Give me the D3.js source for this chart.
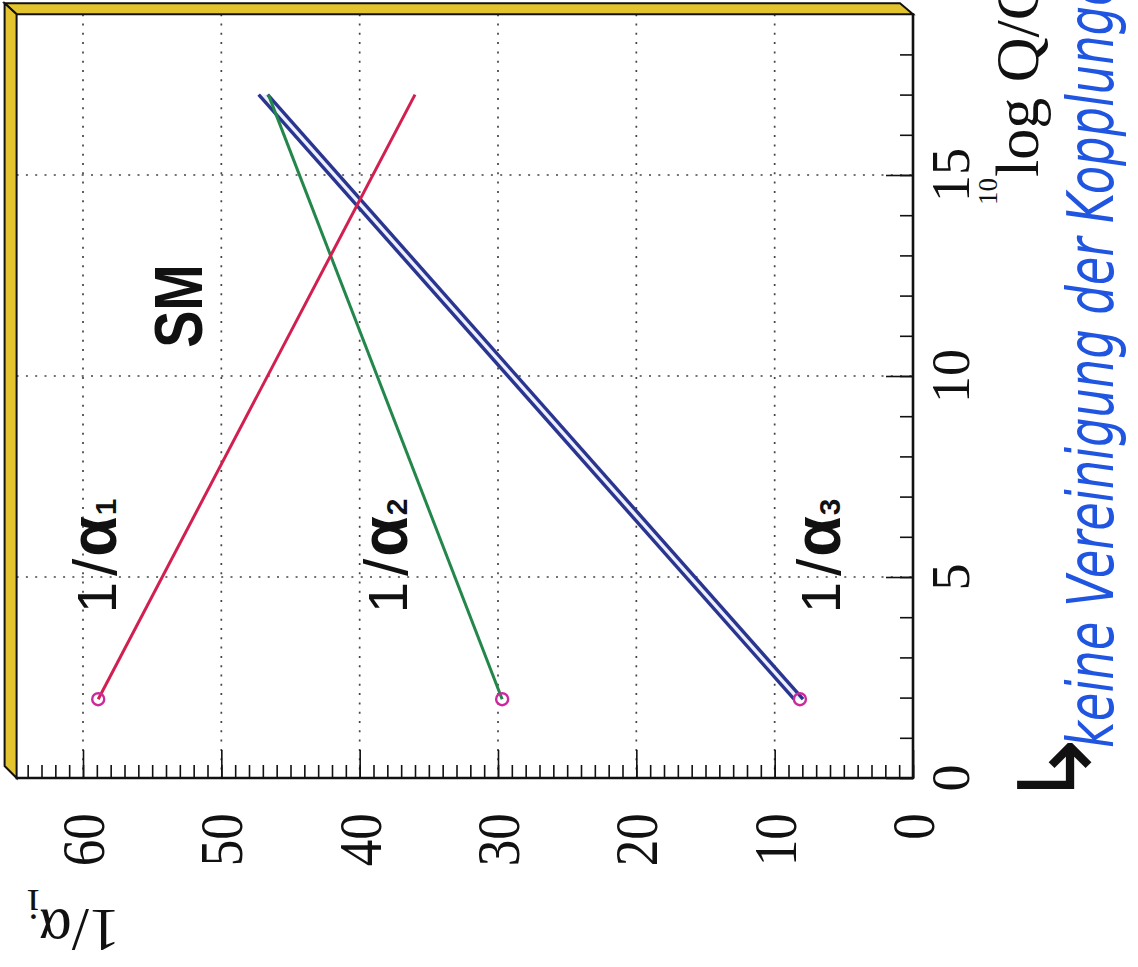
<!DOCTYPE html>
<html><head><meta charset="utf-8">
<script src="https://cdn.jsdelivr.net/npm/d3@7"></script>
<style>html,body{margin:0;padding:0;background:#fff;overflow:hidden}</style>
</head><body><svg id="c" width="1138" height="967"></svg>
<script>
// ---------- data ----------
const seriesNames = ["α1", "α2", "α3"];
const logQRange = [1.96, 17.0];                 // log10(Q/GeV) at start / end of each line
const invAlpha1 = [58.9, 36.0];
const invAlpha2 = [29.7, 46.6];
const invAlpha3Lower = [7.95, 46.65];           // blue band, lower edge
const invAlpha3Upper = [8.6, 47.3];             // blue band, upper edge
const invAlphaMajorTicks = [0, 10, 20, 30, 40, 50, 60];
const invAlphaMinorTicks = d3.range(0, 65, 1);
const logQMajorTicks = [0, 5, 10, 15];
const logQMinorTicks = d3.range(0, 19, 1);
const seriesLabelQ = [4.1, 4.1, 4.1];
const seriesLabelA = [57.6, 36.6, 5.3];
const seriesSubs = ["1", "2", "3"];
const smLabel = {q: 10.7, a: 51.4, text: "SM"};
const yTitle = "1/α";
const yTitleSub = "i";
const xTitlePre = "10";
const xTitle = "log Q/GeV";
const note = "keine Vereinigung der Kopplungen";

// ---------- scales (chart is rotated 90° CCW) ----------
const xA = d3.scaleLinear().domain([0, 60]).range([913, 83]);   // 1/alpha -> horizontal
const yQ = d3.scaleLinear().domain([0, 15]).range([778, 175]);  // log Q -> vertical
const aMax = 64.8, qMax = 19;
const L = xA(aMax), R = xA(0), T = yQ(qMax), B = yQ(0);

const svg = d3.select("#c");
svg.append("rect").attr("width", 1138).attr("height", 967).attr("fill", "#fff");
svg.append("rect").attr("x", L).attr("y", T).attr("width", R - L).attr("height", B - T).attr("fill", "#fff");

// grid
const grid = svg.append("g").attr("stroke", "#444").attr("stroke-width", 1.7).attr("stroke-dasharray", "2,7.3");
grid.selectAll("line.v").data(invAlphaMajorTicks.filter(d => d > 0)).join("line")
  .attr("x1", d => xA(d)).attr("x2", d => xA(d)).attr("y1", T).attr("y2", B);
grid.selectAll("line.h").data(logQMajorTicks.filter(d => d > 0)).join("line")
  .attr("y1", d => yQ(d)).attr("y2", d => yQ(d)).attr("x1", L).attr("x2", R);

// frame (yellow 3D border)
const dep = 12;
const frame = svg.append("g").attr("fill", "#e4c42e").attr("stroke", "#111").attr("stroke-width", 2).attr("stroke-linejoin", "miter");
frame.append("polygon").attr("points", [[L - dep, T - 11], [R - 13, T - 11], [R, T], [L, T]].join(" "));
frame.append("polygon").attr("points", [[L - dep, T - 11], [L, T], [L, B], [L - dep, B - 12]].join(" "));

// ticks
function styleAxis(g) { g.select(".domain").remove(); g.selectAll("line").attr("stroke", "#111").attr("stroke-width", 1.6); }
svg.append("g").attr("transform", `translate(0,${B})`)
  .call(d3.axisTop(xA).tickValues(invAlphaMinorTicks).tickSize(13).tickFormat("")).call(styleAxis);
svg.append("g").attr("transform", `translate(0,${B})`)
  .call(d3.axisTop(xA).tickValues(invAlphaMajorTicks).tickSize(28).tickFormat("")).call(styleAxis);
svg.append("g").attr("transform", `translate(${R},0)`)
  .call(d3.axisLeft(yQ).tickValues(logQMinorTicks).tickSize(13).tickFormat("")).call(styleAxis);
svg.append("g").attr("transform", `translate(${R},0)`)
  .call(d3.axisLeft(yQ).tickValues(logQMajorTicks).tickSize(27).tickFormat("")).call(styleAxis);

// axis lines
svg.append("line").attr("x1", L - 1).attr("x2", R + 1).attr("y1", B).attr("y2", B).attr("stroke", "#111").attr("stroke-width", 2.6);
svg.append("line").attr("x1", R).attr("x2", R).attr("y1", T - 1).attr("y2", B + 1).attr("stroke", "#111").attr("stroke-width", 2.6);

// tick labels
const serif = "'Liberation Serif','Times New Roman',serif";
svg.append("g").selectAll("text").data(invAlphaMajorTicks).join("text")
  .attr("transform", d => `translate(${xA(d)},${813}) rotate(-90) scale(0.86,1)`)
  .attr("text-anchor", "end").attr("dy", "0.34em")
  .attr("font-family", serif).attr("font-size", 62).attr("fill", "#111")
  .text(d => d);
svg.append("g").selectAll("text").data(logQMajorTicks).join("text")
  .attr("transform", d => `translate(${969},${yQ(d)}) rotate(-90)`)
  .attr("text-anchor", "middle")
  .attr("font-family", serif).attr("font-size", 54).attr("fill", "#111")
  .text(d => d);

// lines
const line = d3.line().x(d => xA(d.a)).y(d => yQ(d.q));
const mk = arr => arr.map((a, i) => ({a, q: logQRange[i]}));
const area = d3.area().y(d => yQ(d.q)).x0(d => xA(d.lo)).x1(d => xA(d.hi));
svg.append("path").datum(invAlpha3Lower.map((lo, i) => ({lo, hi: invAlpha3Upper[i], q: logQRange[i]})))
  .attr("d", area).attr("fill", "#eef0fd");
svg.append("path").datum(mk(invAlpha3Lower)).attr("d", line).attr("stroke", "#2a3590").attr("stroke-width", 3.4).attr("fill", "none");
svg.append("path").datum(mk(invAlpha3Upper)).attr("d", line).attr("stroke", "#2a3590").attr("stroke-width", 3.4).attr("fill", "none");
svg.append("path").datum(mk(invAlpha2)).attr("d", line).attr("stroke", "#23864a").attr("stroke-width", 3).attr("fill", "none");
svg.append("path").datum(mk(invAlpha1)).attr("d", line).attr("stroke", "#d11f4f").attr("stroke-width", 3).attr("fill", "none");

// start circles
const starts = [invAlpha1[0], invAlpha2[0], (invAlpha3Lower[0] + invAlpha3Upper[0]) / 2 - 0.1];
svg.append("g").selectAll("circle").data(starts).join("circle")
  .attr("cx", d => xA(d)).attr("cy", yQ(logQRange[0])).attr("r", 6)
  .attr("fill", "none").attr("stroke", "#cc2a9c").attr("stroke-width", 2.4);

// series labels
const sans = "'Liberation Sans',Arial,sans-serif";
seriesNames.forEach((n, i) => {
  const t = svg.append("text")
    .attr("transform", `translate(${xA(seriesLabelA[i])},${yQ(seriesLabelQ[i])}) rotate(-90)`)
    .attr("font-family", sans).attr("fill", "#111");
  t.append("tspan").attr("font-size", 56).text("1");
  t.append("tspan").attr("font-size", 62).attr("dx", 6).text("/");
  t.append("tspan").attr("font-size", 66).attr("dx", 2).attr("font-weight", "bold").text("α");
  t.append("tspan").attr("font-size", 30).attr("dx", 1).attr("font-weight", "bold").text(seriesSubs[i]);
});

// SM
svg.append("text")
  .attr("transform", `translate(${xA(smLabel.a)},${yQ(smLabel.q)}) rotate(-90) scale(0.82,1)`)
  .attr("font-family", sans).attr("font-weight", "bold").attr("font-size", 68).attr("fill", "#111")
  .text(smLabel.text);

// y title (upside down)
const yt = svg.append("text").attr("transform", `translate(120,910) rotate(180)`)
  .attr("font-family", serif).attr("font-size", 62).attr("fill", "#111");
yt.append("tspan").text(yTitle);
yt.append("tspan").attr("font-size", 44).attr("dy", 20).text(yTitleSub);

// x title (rotated)
const xt = svg.append("text").attr("transform", `translate(1038,205) rotate(-90)`)
  .attr("font-family", serif).attr("font-size", 62).attr("fill", "#111");
xt.append("tspan").attr("font-size", 27).attr("dy", -41).text(xTitlePre);
xt.append("tspan").attr("dy", 41).attr("dx", 1).text(xTitle);

// handwritten note
svg.append("text").attr("transform", `translate(1113,748) rotate(-90)`)
  .attr("font-family", "'DejaVu Sans Condensed','Liberation Sans Narrow',sans-serif")
  .attr("font-style", "italic").attr("font-size", 64).attr("fill", "#1f55e0")
  .attr("textLength", 800).attr("lengthAdjust", "spacingAndGlyphs")
  .text(note);
svg.append("text").attr("transform", `translate(1090,768) rotate(-90)`)
  .attr("font-family", "'DejaVu Sans',sans-serif")
  .attr("font-size", 100).attr("fill", "#111").attr("text-anchor", "middle")
  .text("↳");
</script></body></html>
